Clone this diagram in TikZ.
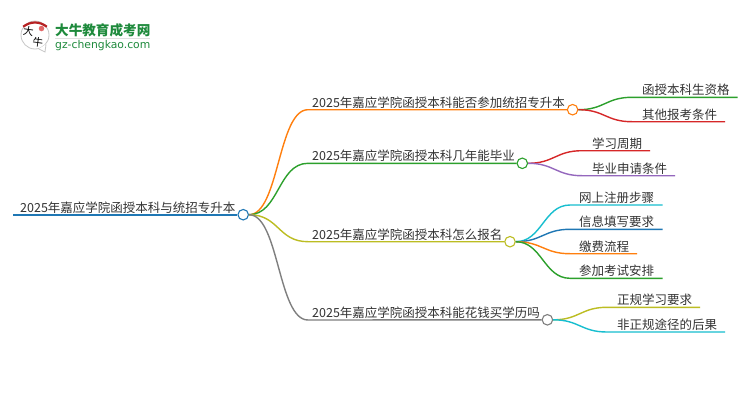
\documentclass[tikz,border=0pt]{standalone}
\usepackage{fontspec}
\setmainfont{Noto Sans CJK SC}
\newfontfamily\logolatin{DejaVu Sans}
\definecolor{cblue}{HTML}{1F77B4}
\definecolor{corange}{HTML}{FF7F0E}
\definecolor{cgreen}{HTML}{2CA02C}
\definecolor{cred}{HTML}{D62728}
\definecolor{cpurple}{HTML}{9467BD}
\definecolor{cgray}{HTML}{7F7F7F}
\definecolor{colive}{HTML}{BCBD22}
\definecolor{ccyan}{HTML}{17BECF}
\definecolor{logogreen}{HTML}{1E8A3C}
\definecolor{inktext}{HTML}{333333}
\tikzset{
  hub/.style={circle,draw=#1,fill=white,line width=1.1pt,inner sep=0pt,minimum size=10.5pt},
  lab/.style={anchor=base west,inner sep=0pt,font=\fontsize{12.5pt}{14pt}\selectfont,text=inktext},
  link/.style={line width=1.4pt,#1},
  stem/.style={line width=2pt,#1}
}
\newcommand{\bough}[4]{\draw[link=#1] (#2) .. controls +(#4,0) and +(-#4,0) .. (#3)}
\begin{document}
\begin{tikzpicture}[x=1pt,y=-1pt]
\useasboundingbox (0,0) rectangle (750,410);
% logo
\fill[white] (0,0) rectangle (750,410);
\node[circle,draw=black!22,fill=white,line width=0.8pt,minimum size=28pt,inner sep=0pt] (bubble) at (35,35) {};
\coordinate (tail) at (45,52);
\draw[black!22,fill=white,line width=0.8pt] (bubble.-75) -- (tail) -- (bubble.-40);
\draw[cred!85!black,line width=2.2pt] (bubble.145) to[bend left=38] (bubble.35);
\node[inner sep=0pt,font=\fontsize{10.5pt}{11pt}\selectfont,text=black,rotate=-8] (logoa) at (28.5,31.5) {大};
\node[inner sep=0pt,font=\fontsize{10.5pt}{11pt}\selectfont,text=black,rotate=-8] (logob) at (38,42) {牛};
\node[circle,fill=cred!70,minimum size=5.5pt,inner sep=0pt] (seal) at (41.5,28.5) {};
\node[anchor=base west,inner sep=0pt,font=\fontsize{13.6pt}{14pt}\selectfont\bfseries,text=logogreen] (logot) at (55,35) {大牛教育成考网};
\coordinate (rulea) at (55,38.5);
\coordinate (ruleb) at (150,38.5);
\draw[black!12,line width=0.8pt] (rulea) -- (ruleb);
\node[anchor=base west,inner sep=0pt,font=\logolatin\fontsize{10.8pt}{11pt}\selectfont,text=logogreen] (logou) at (55,48.5) {gz-chengkao.com};
% hubs
\node[hub=cblue] (root) at (243.2,214.7) {};
\node[hub=corange] (h1) at (572.6,109.7) {};
\node[hub=cgreen] (h2) at (522.3,163.3) {};
\node[hub=colive] (h3) at (510,241.7) {};
\node[hub=cgray] (h4) at (547.4,319.8) {};
% root line
\coordinate (r0) at (13,214.7);
\draw[stem=cblue] (r0) -- (root.west);
% first level
\coordinate (a1) at (308,109.7); \coordinate (a2) at (308,163.3);
\coordinate (a3) at (308,241.7); \coordinate (a4) at (308,320);
\bough{corange}{root.east}{a1}{30} -- (h1.west);
\bough{cgreen}{root.east}{a2}{30} -- (h2.west);
\bough{colive}{root.east}{a3}{30} -- (h3.west);
\bough{cgray}{root.east}{a4}{30} -- (h4.west);
% second level
\coordinate (b1) at (632,97.3); \coordinate (b1e) at (737.7,97.3);
\coordinate (b2) at (632,121.7); \coordinate (b2e) at (725,121.7);
\bough{cgreen}{h1.east}{b1}{26} -- (b1e);
\bough{cred}{h1.east}{b2}{26} -- (b2e);
\coordinate (c1) at (582,150.7); \coordinate (c1e) at (650,150.7);
\coordinate (c2) at (582,175.7); \coordinate (c2e) at (675,175.7);
\bough{cred}{h2.east}{c1}{26} -- (c1e);
\bough{cpurple}{h2.east}{c2}{26} -- (c2e);
\coordinate (d1) at (570,205); \coordinate (d1e) at (662.7,205);
\coordinate (d2) at (570,229.3); \coordinate (d2e) at (662.7,229.3);
\coordinate (d3) at (570,253.7); \coordinate (d3e) at (637,253.7);
\coordinate (d4) at (570,278.3); \coordinate (d4e) at (662.7,278.3);
\bough{ccyan}{h3.east}{d1}{26} -- (d1e);
\bough{cblue}{h3.east}{d2}{26} -- (d2e);
\bough{corange}{h3.east}{d3}{26} -- (d3e);
\bough{cgreen}{h3.east}{d4}{26} -- (d4e);
\coordinate (e1) at (607,307.3); \coordinate (e1e) at (700,307.3);
\coordinate (e2) at (607,332); \coordinate (e2e) at (725,332);
\bough{colive}{h4.east}{e1}{26} -- (e1e);
\bough{ccyan}{h4.east}{e2}{26} -- (e2e);
% labels
\node[lab] (troot) at (20,212) {2025年嘉应学院函授本科与统招专升本};
\node[lab] (t1) at (312,107) {2025年嘉应学院函授本科能否参加统招专升本};
\node[lab] (t2) at (312,160.6) {2025年嘉应学院函授本科几年能毕业};
\node[lab] (t3) at (312,239) {2025年嘉应学院函授本科怎么报名};
\node[lab] (t4) at (312,317.2) {2025年嘉应学院函授本科能花钱买学历吗};
\node[lab] (t11) at (642,94.5) {函授本科生资格};
\node[lab] (t12) at (642,119) {其他报考条件};
\node[lab] (t21) at (592,148) {学习周期};
\node[lab] (t22) at (592,173) {毕业申请条件};
\node[lab] (t31) at (579,202.3) {网上注册步骤};
\node[lab] (t32) at (579,226.6) {信息填写要求};
\node[lab] (t33) at (579,251) {缴费流程};
\node[lab] (t34) at (579,275.6) {参加考试安排};
\node[lab] (t41) at (617,304.6) {正规学习要求};
\node[lab] (t42) at (617,329.3) {非正规途径的后果};
\end{tikzpicture}
\end{document}
